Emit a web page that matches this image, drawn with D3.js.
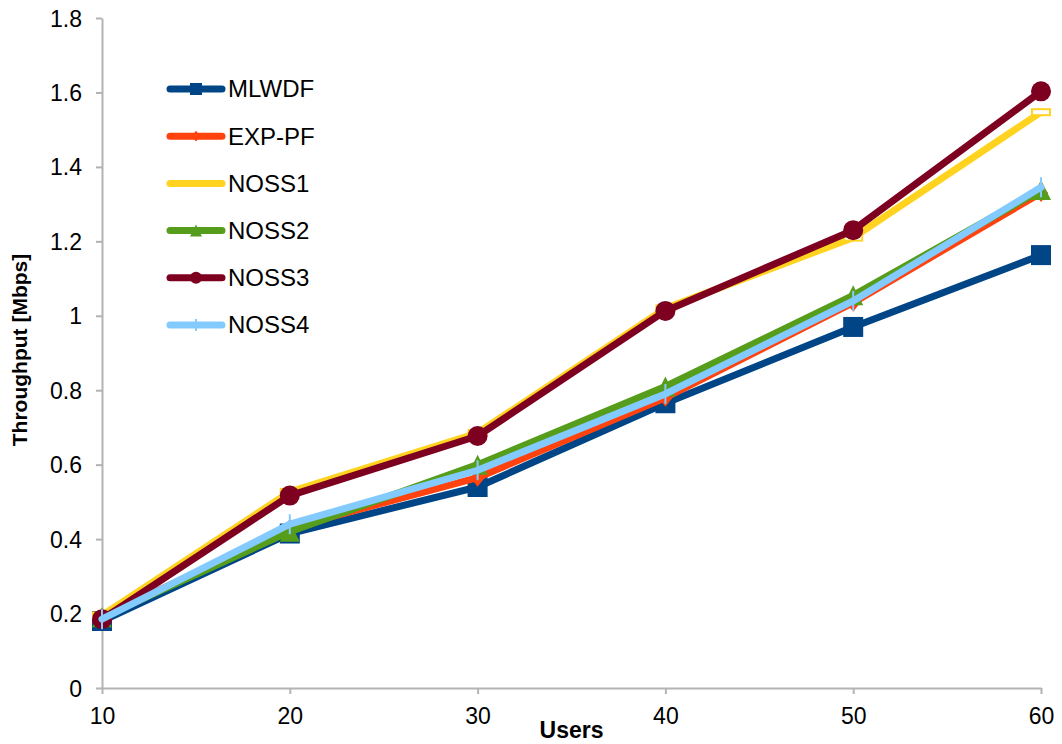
<!DOCTYPE html>
<html>
<head>
<meta charset="utf-8">
<script src="https://cdn.jsdelivr.net/npm/d3@7"></script>
<style>
  html, body { margin: 0; padding: 0; background: #fff; }
  svg { display: block; font-family: "Liberation Sans", Arial, sans-serif; }
</style>
</head>
<body>
<svg id="chart" width="1062" height="744"></svg>
<script>
// Throughput per scheduler versus number of users
const users = [10, 20, 30, 40, 50, 60];
const yTicks = [0, 0.2, 0.4, 0.6, 0.8, 1, 1.2, 1.4, 1.6, 1.8];

const mlwdf = [0.18, 0.415, 0.54, 0.765, 0.97, 1.163];
const expPf = [0.19, 0.43, 0.565, 0.78, 1.035, 1.33];
const noss1 = [0.195, 0.527, 0.685, 1.02, 1.21, 1.547];
const noss2 = [0.19, 0.42, 0.60, 0.81, 1.055, 1.338];
const noss3 = [0.185, 0.517, 0.677, 1.013, 1.23, 1.603];
const noss4 = [0.185, 0.44, 0.585, 0.79, 1.04, 1.345];

const seriesNames = ["MLWDF", "EXP-PF", "NOSS1", "NOSS2", "NOSS3", "NOSS4"];
const seriesValues = [mlwdf, expPf, noss1, noss2, noss3, noss4];
const seriesColors = ["#004586", "#ff420e", "#ffd320", "#579d1c", "#7e0021", "#83caff"];
const seriesMarkers = ["square", "diamond", "bar", "triangle", "circle", "plus"];

const svg = d3.select("#chart");
const margin = { left: 102, right: 21, top: 18, bottom: 56 };
const W = 1062, H = 744;

const x = d3.scaleLinear().domain([10, 60]).range([margin.left, W - margin.right]);
const y = d3.scaleLinear().domain([0, 1.8]).range([H - margin.bottom, margin.top]);

// Axes
const axisColor = "#b3b3b3";
const xAxis = svg.append("g")
  .attr("transform", `translate(0,${y(0)})`)
  .call(d3.axisBottom(x).tickValues(users).tickSize(6).tickSizeOuter(0).tickFormat(d3.format("d")));
const yAxis = svg.append("g")
  .attr("transform", `translate(${x(10)},0)`)
  .call(d3.axisLeft(y).tickValues(yTicks).tickSize(6).tickSizeOuter(0).tickFormat(d => d3.format("")(d)));

[xAxis, yAxis].forEach(g => {
  g.select(".domain").attr("stroke", axisColor).attr("stroke-width", 2);
  g.selectAll(".tick line").attr("stroke", axisColor).attr("stroke-width", 2);
  g.selectAll(".tick text").attr("fill", "#000").style("font-size", "23px")
    .style("font-family", "'Liberation Sans', Arial, sans-serif");
});
xAxis.selectAll(".tick text").attr("y", 14).attr("dy", "0.95em");
yAxis.selectAll(".tick text").attr("x", -20).attr("dy", "0.35em");

// Axis titles
svg.append("text")
  .attr("x", (x(10) + x(60)) / 2).attr("y", 738)
  .attr("text-anchor", "middle")
  .style("font-size", "23px").style("font-weight", "bold")
  .text("Users");
svg.append("text")
  .attr("transform", `translate(27,${(y(0) + y(1.8)) / 2 - 3}) rotate(-90)`)
  .attr("text-anchor", "middle")
  .style("font-size", "21px").style("font-weight", "bold")
  .text("Throughput [Mbps]");

// Marker drawing
function drawMarker(g, type, color, cx, cy, s) {
  if (type === "square") {
    g.append("rect").attr("x", cx - s / 2).attr("y", cy - s / 2)
      .attr("width", s).attr("height", s).attr("fill", color);
  } else if (type === "circle") {
    g.append("circle").attr("cx", cx).attr("cy", cy).attr("r", s / 2).attr("fill", color);
  } else if (type === "triangle") {
    g.append("path")
      .attr("d", `M${cx},${cy - s / 2}L${cx + s / 2},${cy + s / 2}L${cx - s / 2},${cy + s / 2}Z`)
      .attr("fill", color);
  } else if (type === "diamond") {
    const r = s * 0.45;
    g.append("path")
      .attr("d", `M${cx},${cy - r}L${cx + r * 0.8},${cy}L${cx},${cy + r}L${cx - r * 0.8},${cy}Z`)
      .attr("fill", color);
  } else if (type === "bar") {
    g.append("rect").attr("x", cx - s / 2 + 1).attr("y", cy - s * 0.15)
      .attr("width", s - 2).attr("height", s * 0.3)
      .attr("fill", "#fff").attr("stroke", color).attr("stroke-width", 2);
  } else if (type === "plus") {
    g.append("line").attr("x1", cx).attr("x2", cx)
      .attr("y1", cy - s / 2).attr("y2", cy + s / 2)
      .attr("stroke", color).attr("stroke-width", 2);
  }
}

// Lines and markers
const line = d3.line().x((d, i) => x(users[i])).y(d => y(d));
seriesValues.forEach((vals, k) => {
  const g = svg.append("g");
  g.append("path").datum(vals)
    .attr("d", line)
    .attr("fill", "none")
    .attr("stroke", seriesColors[k])
    .attr("stroke-width", 7)
    .attr("stroke-linejoin", "round")
    .attr("stroke-linecap", "round");
  vals.forEach((v, i) => drawMarker(g, seriesMarkers[k], seriesColors[k], x(users[i]), y(v), 20));
});

// Legend
const legend = svg.append("g");
seriesNames.forEach((name, k) => {
  const ly = 89 + k * 47.2;
  legend.append("line")
    .attr("x1", 170).attr("x2", 222).attr("y1", ly).attr("y2", ly)
    .attr("stroke", seriesColors[k]).attr("stroke-width", 7).attr("stroke-linecap", "round");
  if (seriesMarkers[k] !== "bar") drawMarker(legend, seriesMarkers[k], seriesColors[k], 196, ly, 12);
  legend.append("text")
    .attr("x", 228).attr("y", ly).attr("dy", "0.35em")
    .style("font-size", "24px")
    .text(name);
});
</script>
</body>
</html>
